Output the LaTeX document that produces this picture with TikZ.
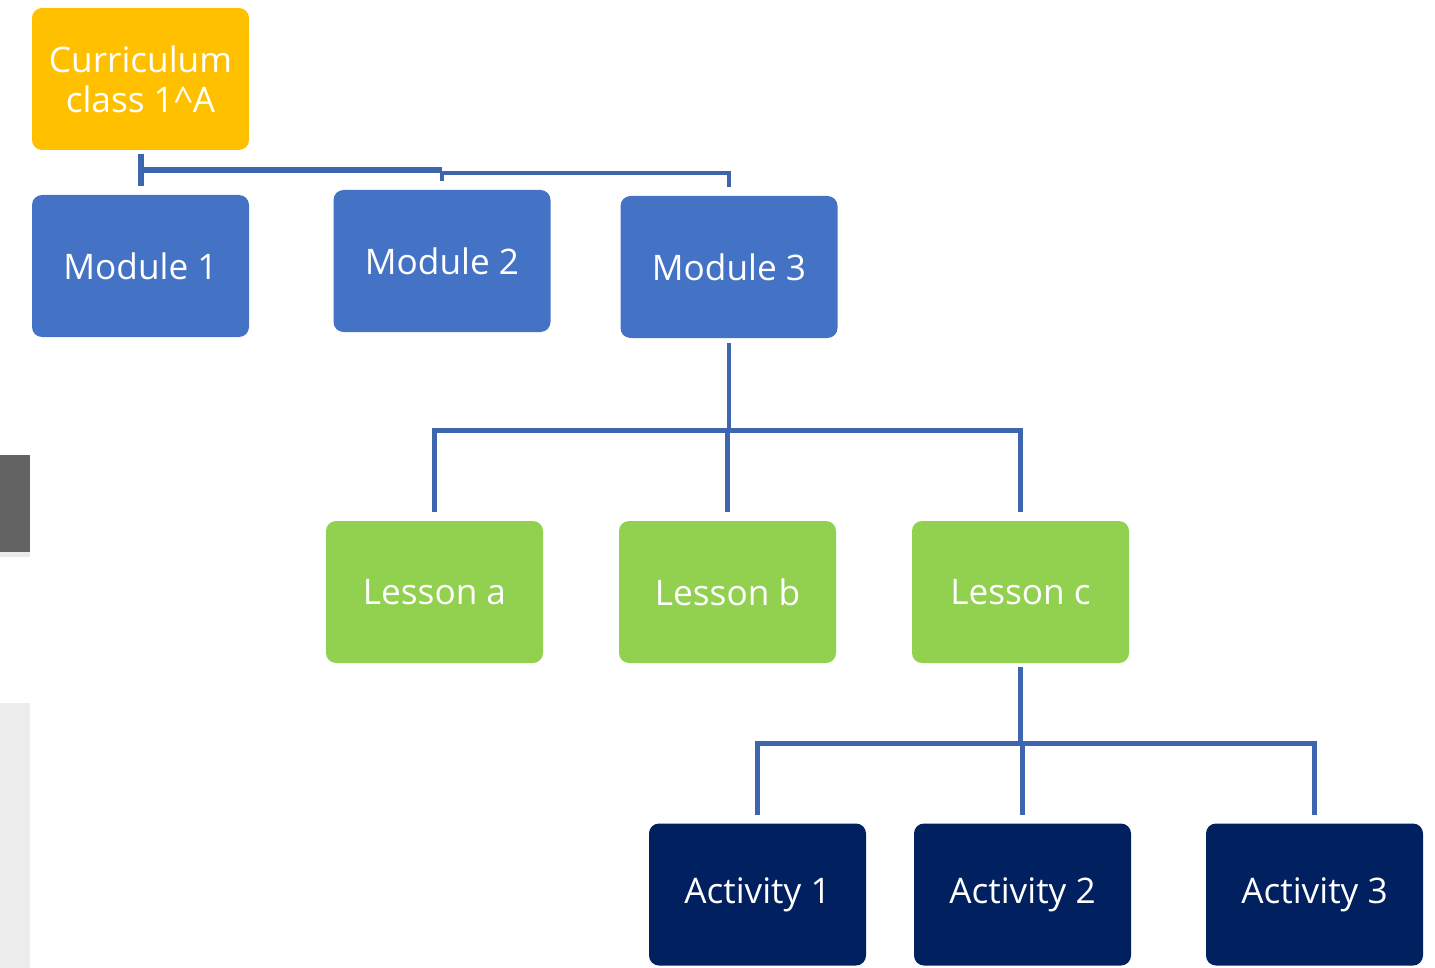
\documentclass[tikz,border=0pt]{standalone}
\usepackage{fontspec}
\setmainfont{Open Sans}
\definecolor{currorange}{RGB}{255,192,0}
\definecolor{modblue}{RGB}{68,114,196}
\definecolor{lessgreen}{RGB}{146,208,80}
\definecolor{actnavy}{RGB}{0,32,96}
\definecolor{linkblue}{RGB}{62,102,174}
\definecolor{bardark}{RGB}{99,99,99}
\definecolor{barlight}{RGB}{237,237,237}
\begin{document}
\begin{tikzpicture}[x=0.5pt, y=-0.5pt,
    box/.style={rounded corners=5pt, minimum width=108.5pt, minimum height=71pt, inner sep=0pt,
                text=white, align=center, font=\fontsize{17.6}{20}\selectfont},
    link/.style={draw=linkblue, line width=2.4pt}]
            \useasboundingbox (0,0) rectangle (1435,968);
            % Bordo sinistro
            \fill[bardark] (0,455) rectangle (30,552);
            \fill[black!8] (0,552) rectangle (30,557);
            \fill[barlight] (0,703) rectangle (30,968);
            
            % Curriculum
            \node[box, fill=currorange] (curr) at (140.5,79) {Curriculum\\class 1\textasciicircum A};
            
            % Moduli
            \node[box, fill=modblue] (mod1) at (140.5,266) {Module 1};
            \node[box, fill=modblue] (mod2) at (442,261) {Module 2};
            \node[box, fill=modblue] (mod3) at (729,267) {Module 3};
            
            % Lezioni
            \node[box, fill=lessgreen] (lesa) at (434.5,592) {Lesson a};
            \node[box, fill=lessgreen] (lesb) at (727.5,592) {Lesson b};
            \node[box, fill=lessgreen] (lesc) at (1020.5,592) {Lesson c};
            
            % Attivita
            \node[box, fill=actnavy] (act1) at (757.5,894.5) {Activity 1};
            \node[box, fill=actnavy] (act2) at (1022.5,894.5) {Activity 2};
            \node[box, fill=actnavy] (act3) at (1314.5,894.5) {Activity 3};
            
            % Linee
            \draw[link, line width=3pt, shorten <=2pt, shorten >=4.5pt] (curr.south) -- (mod1.north);
            \draw[link, line width=3pt] ([yshift=-10pt]curr.south) -- ([yshift=-10pt]curr.south -| mod2.north);
            \draw[link, line width=1.6pt, shorten >=4.5pt] ([yshift=-11.5pt]curr.south -| mod2.north) -- (mod2.north);
            \draw[link, line width=2pt, shorten >=4.5pt] ([yshift=-11.5pt]curr.south -| mod2.north) -| (mod3.north);
            \foreach \l in {lesa,lesb,lesc}
                \draw[link, shorten <=2.5pt, shorten >=4.5pt] (mod3.south) -- ++(0,92) -| (\l.north);
            \foreach \a in {act1,act2,act3}
                \draw[link, shorten <=2pt, shorten >=4pt] (lesc.south) -- ++(0,80) -| (\a.north);
        \end{tikzpicture}
\end{document}
